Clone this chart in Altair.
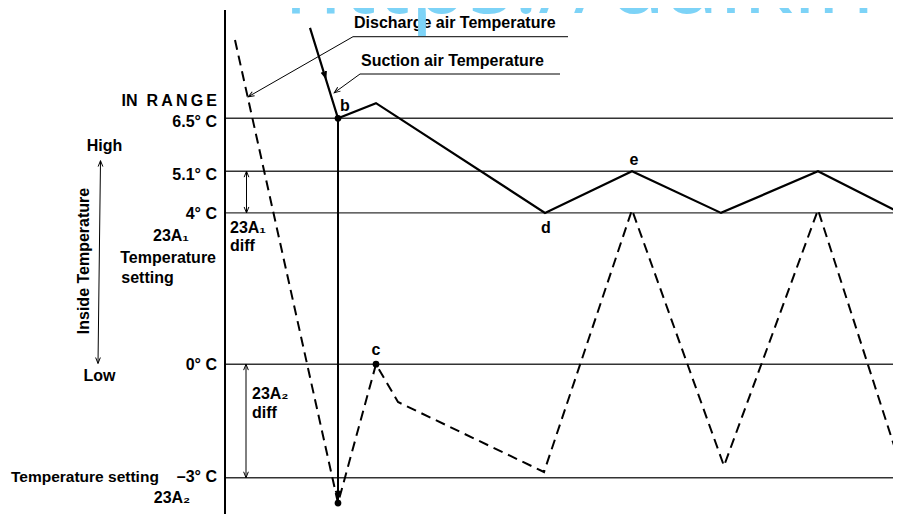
import altair as alt
import pandas as pd

# ---------------- data (x = time-position units, c = temperature in °C) ----------------
levels_c = [6.5, 5.1, 4.0, 0.0, -3.0]
level_x0 = [225, 225, 225, 225, 225]
level_x1 = [900, 900, 900, 900, 900]

suction_x = [310, 338, 376, 545, 632, 721, 818, 900]
suction_c = [8.89, 6.5, 6.9, 4.0, 5.1, 4.0, 5.1, 4.0]

discharge_x = [235, 338, 376, 398, 544, 632, 724, 818, 900]
discharge_c = [8.57, -3.67, 0.0, -1.0, -2.85, 4.08, -2.69, 4.08, -2.64]

point_x = [338, 376, 338]
point_c = [6.5, 0.0, -3.67]

# thick solid segments: axis, drop line from b to b
thick_x = [225, 338]
thick_c = [9.36, 6.5]
thick_x2 = [225, 338]
thick_c2 = [-4.4, -3.67]

# thin leader / dimension lines
thin_x = [353, 353, 360, 360, 246.5, 246, 100.5]
thin_c = [8.657, 8.657, 7.671, 7.671, 5.1, 0.0, 5.38]
thin_x2 = [568, 248.3, 560, 334.3, 246.5, 246, 98]
thin_c2 = [8.657, 7.071, 7.671, 7.177, 4.0, -3.0, 0.02]

# arrow heads (tip position, direction in degrees clockwise from up)
thick_head_x = [325.5, 338]
thick_head_c = [7.59, -3.5]
thick_head_a = [162, 180]
thin_head_x = [248.3, 334.3, 246.5, 246.5, 246, 246, 100.5, 98]
thin_head_c = [7.071, 7.177, 5.1, 4.0, 0.0, -3.0, 5.38, 0.02]
thin_head_a = [240, 234, 0, 180, 0, 180, 0, 180]

# labels
right_text = ["IN\u00a0\u00a0R\u2009A\u2009N\u2009G\u2009E", "6.5° C", "5.1° C", "4° C",
              "Temperature", "0° C", "–3° C"]
right_x = [217, 217, 217, 217, 216, 217, 217]
right_c = [6.825, 6.27, 4.869, 3.83, 2.667, -0.153, -3.106]

center_text = ["High", "23A₁", "setting", "Low", "23A₂", "c", "d", "e", "b"]
center_x = [104.5, 171, 147.5, 99.5, 172, 376, 546, 634, 339]
center_c = [5.636, 3.264, 2.138, -0.436, -3.661, 0.243, 3.468, 5.266, -4.38]

left_text = ["23A₁", "diff", "23A₂", "diff",
             "Discharge air Temperature", "Suction air Temperature", "b"]
left_x = [230, 230, 252, 252, 354, 361, 340]
left_c = [3.468, 2.992, -0.907, -1.422, 8.879, 7.890, 6.70]

setting_text = ["Temperature setting"]
setting_x = [11]
setting_c = [-3.106]

axis_title = ["Inside Temperature"]
axis_title_x = [89]
axis_title_c = [2.728]

watermark = ["https://daikin"]
watermark_x = [284]
watermark_c = [9.276]

# ---------------- scales ----------------
XS = alt.Scale(domain=[8, 893], nice=False, zero=False)
YS = alt.Scale(domain=[-3.96, 9.416], nice=False, zero=False)


def X(f="x"):
    return alt.X(f"{f}:Q", scale=XS, axis=None)


def Y(f="c"):
    return alt.Y(f"{f}:Q", scale=YS, axis=None)


def segs(x, c, x2, c2):
    return pd.DataFrame({"x": x, "c": c, "x2": x2, "c2": c2})


FONT = "Liberation Sans"

levels = alt.Chart(segs(level_x0, levels_c, level_x1, levels_c)).mark_rule(
    color="#333333", strokeWidth=1.4
).encode(x=X(), y=Y(), x2="x2:Q", y2="c2:Q")

thick = alt.Chart(segs(thick_x, thick_c, thick_x2, thick_c2)).mark_rule(
    color="black", strokeWidth=2
).encode(x=X(), y=Y(), x2="x2:Q", y2="c2:Q")

thin = alt.Chart(segs(thin_x, thin_c, thin_x2, thin_c2)).mark_rule(
    color="black", strokeWidth=1
).encode(x=X(), y=Y(), x2="x2:Q", y2="c2:Q")

suction = alt.Chart(pd.DataFrame({"x": suction_x, "c": suction_c,
                                  "i": range(len(suction_x))})).mark_line(
    color="black", strokeWidth=2.2, strokeJoin="miter"
).encode(x=X(), y=Y(), order="i:Q")

discharge = alt.Chart(pd.DataFrame({"x": discharge_x, "c": discharge_c,
                                    "i": range(len(discharge_x))})).mark_line(
    color="black", strokeWidth=2, strokeDash=[10, 6], strokeJoin="miter"
).encode(x=X(), y=Y(), order="i:Q")

dots = alt.Chart(pd.DataFrame({"x": point_x, "c": point_c})).mark_circle(
    color="black", size=45, opacity=1
).encode(x=X(), y=Y())

ARROW = "M -0.4 1 L 0 0 L 0.4 1"
thick_heads = alt.Chart(pd.DataFrame({"x": thick_head_x, "c": thick_head_c,
                                      "a": thick_head_a})).mark_point(
    shape=ARROW, filled=False, stroke="black", strokeWidth=2, size=130, opacity=1
).encode(x=X(), y=Y(), angle=alt.Angle("a:Q", scale=None))

thin_heads = alt.Chart(pd.DataFrame({"x": thin_head_x, "c": thin_head_c,
                                     "a": thin_head_a})).mark_point(
    shape=ARROW, filled=False, stroke="black", strokeWidth=1, size=140, opacity=1
).encode(x=X(), y=Y(), angle=alt.Angle("a:Q", scale=None))


def texts(t, x, c, align, size=16):
    return alt.Chart(pd.DataFrame({"t": t, "x": x, "c": c})).mark_text(
        align=align, baseline="alphabetic", font=FONT, fontWeight="bold",
        fontSize=size, color="black"
    ).encode(x=X(), y=Y(), text="t:N")


right_labels = texts(right_text, right_x, right_c, "right")
center_labels = texts(center_text, center_x, center_c, "center")
left_labels = texts(left_text, left_x, left_c, "left")
setting_label = texts(setting_text, setting_x, setting_c, "left", 15.5)

title = alt.Chart(pd.DataFrame({"t": axis_title, "x": axis_title_x,
                                "c": axis_title_c})).mark_text(
    align="center", baseline="alphabetic", angle=270, font=FONT,
    fontWeight="bold", fontSize=16, color="black"
).encode(x=X(), y=Y(), text="t:N")

wm = alt.Chart(pd.DataFrame({"t": watermark, "x": watermark_x,
                             "c": watermark_c})).mark_text(
    align="left", baseline="alphabetic", font="Open Sans", fontWeight=400,
    fontSize=95, color="#7dd3f7"
).encode(x=X(), y=Y(), text="t:N")

chart = alt.layer(
    levels, thick, thin, suction, discharge, dots, thick_heads, thin_heads,
    right_labels, center_labels, left_labels, setting_label, title, wm
).properties(
    width=885, height=506, autosize="none", padding=0, background="white"
).configure_view(stroke=None)

chart.save("out.html", embed_options={"renderer": "svg", "actions": False})
